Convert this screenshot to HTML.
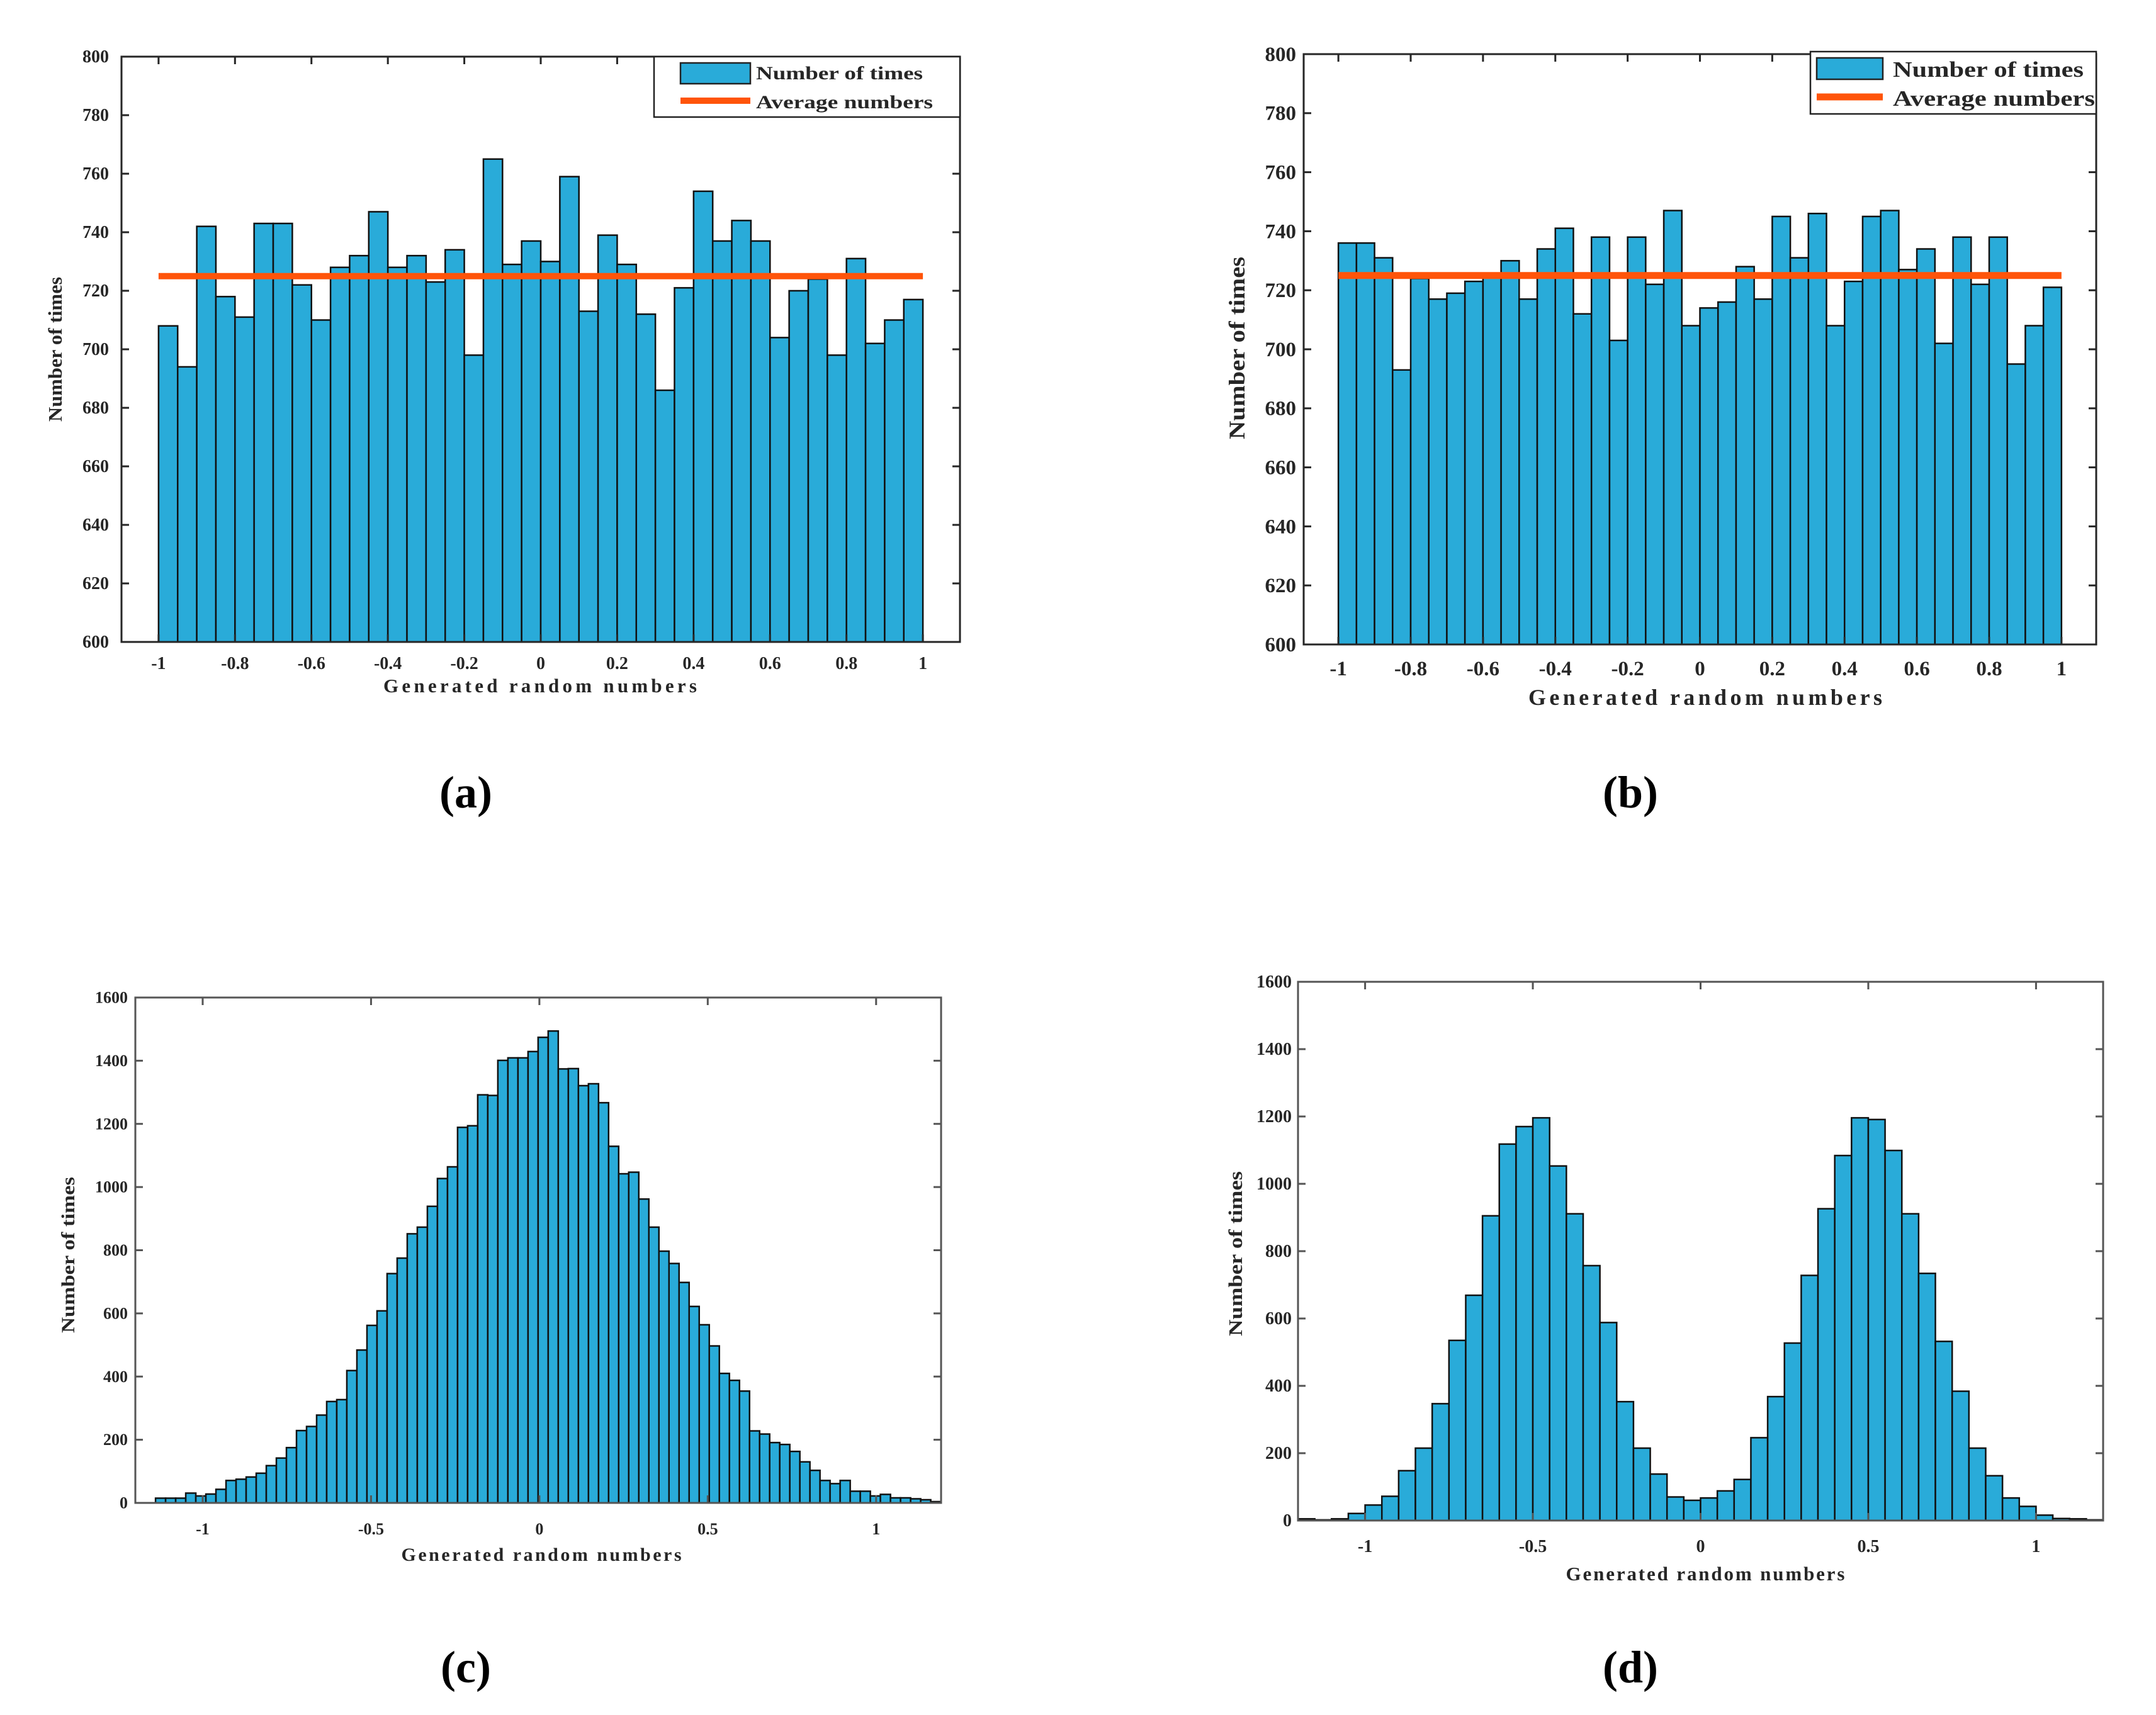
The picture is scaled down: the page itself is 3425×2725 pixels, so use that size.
<!DOCTYPE html>
<html><head><meta charset="utf-8"><style>
html,body{margin:0;padding:0;background:#fff;}
svg{display:block;}
text{font-family:"Liberation Serif",serif;font-weight:bold;fill:#262626;}
</style></head>
<body>
<svg id="fig" width="3425" height="2725" viewBox="0 0 3425 2725" xmlns="http://www.w3.org/2000/svg"></svg>
<script>
// ---- data ----
const countsA = [708,694,742,718,711,743,743,722,710,728,732,747,728,732,723,734,698,765,729,737,730,759,713,739,729,712,686,721,754,737,744,737,704,720,724,698,731,702,710,717];
const countsB = [736,736,731,693,724,717,719,723,725,730,717,734,741,712,738,703,738,722,747,708,714,716,728,717,745,731,746,708,723,745,747,727,734,702,738,722,738,695,708,721];
const countsC = [15,15,15,31,22,28,43,71,75,82,94,118,142,175,229,242,278,321,327,419,484,562,608,726,775,852,873,939,1027,1064,1189,1194,1292,1290,1401,1409,1409,1429,1474,1494,1374,1375,1321,1327,1267,1129,1042,1047,962,873,797,758,698,622,564,497,410,388,354,228,218,191,185,163,130,103,71,61,71,37,37,22,27,16,16,13,10,4];
const countsD = [5,2,5,21,46,72,148,215,347,535,669,905,1118,1170,1196,1053,911,757,588,353,215,138,70,60,67,88,122,246,368,527,728,926,1084,1196,1191,1099,911,734,532,384,215,133,67,42,16,6,5,2];
const averageAB = [725];
const yTicksAB = [600,620,640,660,680,700,720,740,760,780,800];
const xTicksAB = [-1,-0.8,-0.6,-0.4,-0.2,0,0.2,0.4,0.6,0.8,1];
const yTicksCD = [0,200,400,600,800,1000,1200,1400,1600];
const xTicksCD = [-1,-0.5,0,0.5,1];
const xTickLabelsCD = ["-1","-0.5","0","0.5","1"];

const NS = "http://www.w3.org/2000/svg";
const svg = document.getElementById('fig');
function mk(tag, attrs, parent){ const e=document.createElementNS(NS,tag); for(const k in attrs) e.setAttribute(k,attrs[k]); (parent||svg).appendChild(e); return e; }

function panel(p){
  const g = mk('g',{});
  
  
  const sx = v => p.L + (v - p.x0)/(p.x1 - p.x0)*(p.R - p.L);
  const sy = v => p.B - (v - p.y0)/(p.y1 - p.y0)*(p.B - p.T);
  const bw = p.bw;
  p.counts.forEach((c,i)=>{
    const a = p.start + i*bw, b = a + bw;
    const r = mk('rect',{x:sx(a),y:sy(c),width:sx(b)-sx(a),height:p.B-sy(c),fill:'#29ABD9',stroke:'#111','stroke-width':p.sw},g);
    
    
  });
  if(p.avg){
    const l = mk('line',{x1:sx(-1),x2:sx(1),y1:sy(p.avg[0]),y2:sy(p.avg[0]),stroke:'#FF540A','stroke-width':p.lw},g);
    
    
  }
  const box = mk('rect',{x:p.L,y:p.T,width:p.R-p.L,height:p.B-p.T,fill:'none',stroke:p.axc,'stroke-width':3},g);
  
  
  p.yt.forEach(v=>{
    const y=sy(v);
    mk('line',{x1:p.L,x2:p.L+12,y1:y,y2:y,stroke:p.axc,'stroke-width':3},g);
    mk('line',{x1:p.R,x2:p.R-12,y1:y,y2:y,stroke:p.axc,'stroke-width':3},g);
    const t = mk('text',{x:p.L-p.ylo,y:y+p.fs*0.33,'text-anchor':'end','font-size':p.fs},g);
    t.textContent = v;
    
    
  });
  p.xt.forEach((v,i)=>{
    const x=sx(v);
    mk('line',{x1:x,x2:x,y1:p.B,y2:p.B-12,stroke:p.axc,'stroke-width':3},g);
    mk('line',{x1:x,x2:x,y1:p.T,y2:p.T+12,stroke:p.axc,'stroke-width':3},g);
    const t = mk('text',{x:x,y:p.xly,'text-anchor':'middle','font-size':p.fs},g);
    t.textContent = p.xl ? p.xl[i] : String(v);
    
    
  });
  const xt = mk('text',{x:p.xtx,y:p.xty,'text-anchor':'middle','font-size':p.tfs,textLength:p.xtlen,lengthAdjust:'spacing'},g);
  xt.textContent='Generated random numbers';
  
  
  const yt = mk('text',{x:0,y:0,'text-anchor':'middle','font-size':p.tfs,textLength:p.ytlen,lengthAdjust:'spacingAndGlyphs',transform:`translate(${p.ytx},${p.yty}) rotate(-90)`},g);
  yt.textContent='Number of times';
  
  
  if(p.leg){
    const q=p.leg;
    const lg = mk('g',{},g);
    
    
    mk('rect',{x:q.x,y:q.y,width:q.w,height:q.h,fill:'#fff',stroke:'#222','stroke-width':2.5},lg);
    const pa = mk('rect',{x:q.px,y:q.py,width:q.pw,height:q.ph,fill:'#29ABD9',stroke:'#222','stroke-width':2.5},lg);
    
    
    const ll = mk('line',{x1:q.px,x2:q.px+q.pw,y1:q.ly,y2:q.ly,stroke:'#FF540A','stroke-width':p.lw},lg);
    
    
    const t1 = mk('text',{x:q.tx,y:q.b1,'font-size':q.fs,textLength:q.l1,lengthAdjust:'spacingAndGlyphs'},lg); t1.textContent='Number of times';
    
    
    const t2 = mk('text',{x:q.tx,y:q.b2,'font-size':q.fs,textLength:q.l2,lengthAdjust:'spacingAndGlyphs'},lg); t2.textContent='Average numbers';
    
    
  }
  const s = mk('text',{x:p.sx,y:p.sy,'text-anchor':'middle','font-size':72,style:'font-weight:bold;fill:#000'},g);
  s.textContent = p.sub;
  
  
}

panel({name:'panel-a',counts:countsA,start:-1,bw:0.05,avg:averageAB,L:193,R:1525,T:90,B:1020,x0:-1.097,x1:1.097,y0:600,y1:800,
  sw:2.5,lw:10,axc:'#262626',yt:yTicksAB,xt:xTicksAB,fs:28,ylo:20,xly:1063,
  xtx:858,xty:1100,xtlen:498,tfs:31,ytx:98,yty:555,ytlen:230,
  leg:{x:1039,y:90,w:486,h:96,px:1081,py:100,pw:111,ph:33,ly:160,tx:1201,b1:126,b2:172,fs:30,l1:265,l2:281},
  sub:'(a)',sx:740,sy:1283});
panel({name:'panel-b',counts:countsB,start:-1,bw:0.05,avg:averageAB,L:2071,R:3330,T:86,B:1024,x0:-1.096,x1:1.096,y0:600,y1:800,
  sw:2.5,lw:11,axc:'#262626',yt:yTicksAB,xt:xTicksAB,fs:33,ylo:12,xly:1073,
  xtx:2709,xty:1120,xtlen:562,tfs:36,ytx:1977,yty:553,ytlen:290,
  leg:{x:2876,y:82,w:454,h:99,px:2886,py:92,pw:105,ph:34,ly:154,tx:3007,b1:122,b2:168,fs:35,l1:303,l2:321},
  sub:'(b)',sx:2590,sy:1283});
panel({name:'panel-c',counts:countsC,start:-1.14,bw:0.0299,L:215,R:1495,T:1585,B:2388,x0:-1.2,x1:1.193,y0:0,y1:1600,
  sw:2.5,lw:10,axc:'#555',yt:yTicksCD,xt:xTicksCD,xl:xTickLabelsCD,fs:26,ylo:12,xly:2438,
  xtx:860,xty:2480,xtlen:445,tfs:30,ytx:118,yty:1994,ytlen:248,
  sub:'(c)',sx:740,sy:2673});
panel({name:'panel-d',counts:countsD,start:-1.2,bw:0.05,L:2062,R:3341,T:1560,B:2416,x0:-1.2,x1:1.2,y0:0,y1:1600,
  sw:2.5,lw:10,axc:'#555',yt:yTicksCD,xt:xTicksCD,xl:xTickLabelsCD,fs:28,ylo:10,xly:2466,
  xtx:2709,xty:2511,xtlen:443,tfs:31,ytx:1973,yty:1992,ytlen:262,
  sub:'(d)',sx:2590,sy:2673});
</script>
</body></html>
